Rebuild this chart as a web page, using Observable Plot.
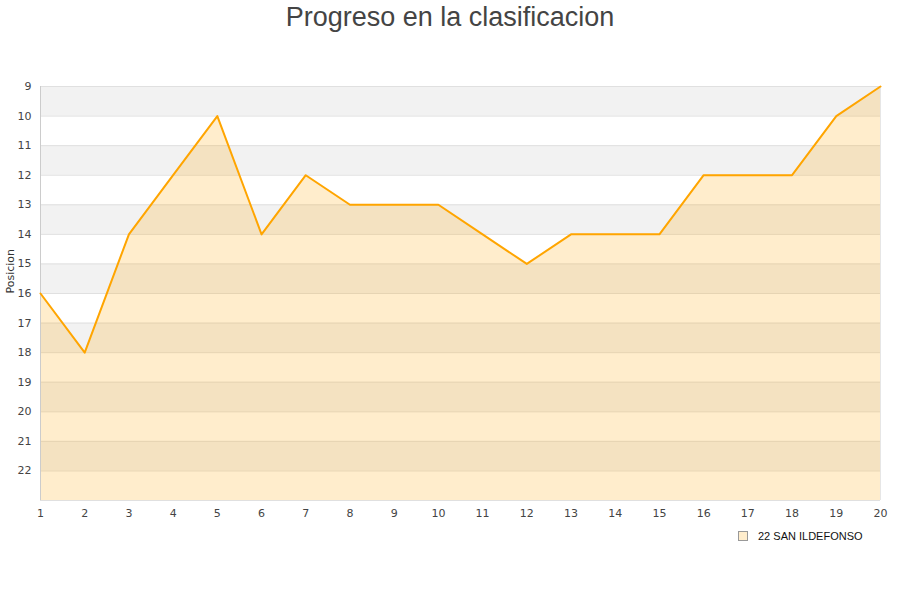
<!DOCTYPE html>
<html>
<head>
<meta charset="utf-8">
<script src="https://cdn.jsdelivr.net/npm/d3@7"></script>
<script src="https://cdn.jsdelivr.net/npm/@observablehq/plot@0.6"></script>
<style>
  body { margin: 0; background: #fff; font-family: "DejaVu Sans", sans-serif; }
  #wrap { position: relative; width: 900px; height: 600px; }
  #title { position: absolute; left: 0; width: 900px; top: 2px; text-align: center; font-size: 27px; color: #444; font-family: "Liberation Sans", Arial, sans-serif; line-height: 30px; }
  #legend { position: absolute; left: 738px; top: 530px; font-size: 11px; color: #111; display: flex; align-items: center; background: #fff; padding-right: 4px; font-family: "Liberation Sans", Arial, sans-serif; }
  #legend .sw { width: 8px; height: 8px; background: #ffedcc; border: 1px solid #999; margin-right: 10px; }
</style>
</head>
<body>
<div id="wrap">
  <div id="title">Progreso en la clasificacion</div>
  <div id="chart"></div>
  <div id="legend"><span class="sw"></span><span>22 SAN ILDEFONSO</span></div>
</div>
<script>
const jornadas = [1,2,3,4,5,6,7,8,9,10,11,12,13,14,15,16,17,18,19,20];
const posiciones = [16,18,14,12,10,14,12,13,13,13,14,15,14,14,14,12,12,12,10,9];
const yTicks = [9,10,11,12,13,14,15,16,17,18,19,20,21,22];
const bandStarts = [9,11,13,15,17,19,21];
const teamName = "22 SAN ILDEFONSO";

const data = jornadas.map((j, i) => ({j, pos: posiciones[i]}));
const bands = bandStarts.map(b => ({y1: b, y2: b + 1}));
const gridLines = d3.range(9, 24);

const chart = Plot.plot({
  width: 900,
  height: 600,
  marginTop: 86,
  marginBottom: 100,
  marginLeft: 40,
  marginRight: 20,
  style: {fontFamily: "DejaVu Sans, sans-serif", fontSize: "11px", color: "#444", background: "transparent"},
  x: {domain: [1, 20], ticks: jornadas, tickSize: 0, tickPadding: 9, label: null, tickFormat: d => String(d)},
  y: {domain: [9, 23], reverse: true, ticks: yTicks, tickSize: 0, tickPadding: 9, label: null},
  marks: [
    Plot.rect(bands, {x1: 1, x2: 20, y1: "y1", y2: "y2", fill: "#f2f2f2"}),
    Plot.ruleY(gridLines, {x1: 1, x2: 20, stroke: "#e0e0e0", strokeWidth: 1}),
    Plot.ruleX([20], {y1: 9, y2: 23, stroke: "#e6e6e6"}),
    Plot.areaY(data, {x: "j", y1: () => 23, y2: "pos", fill: "#ffa500", fillOpacity: 0.2}),
    Plot.ruleX([1], {y1: 9, y2: 23, stroke: "#ccc"}),
    Plot.line(data, {x: "j", y: "pos", stroke: "#ffa500", strokeWidth: 2}),
    Plot.text(["Posicion"], {frameAnchor: "left", dx: -30, rotate: -90, fill: "#333", fontSize: 11})
  ]
});
document.getElementById("chart").appendChild(chart);
</script>
</body>
</html>
